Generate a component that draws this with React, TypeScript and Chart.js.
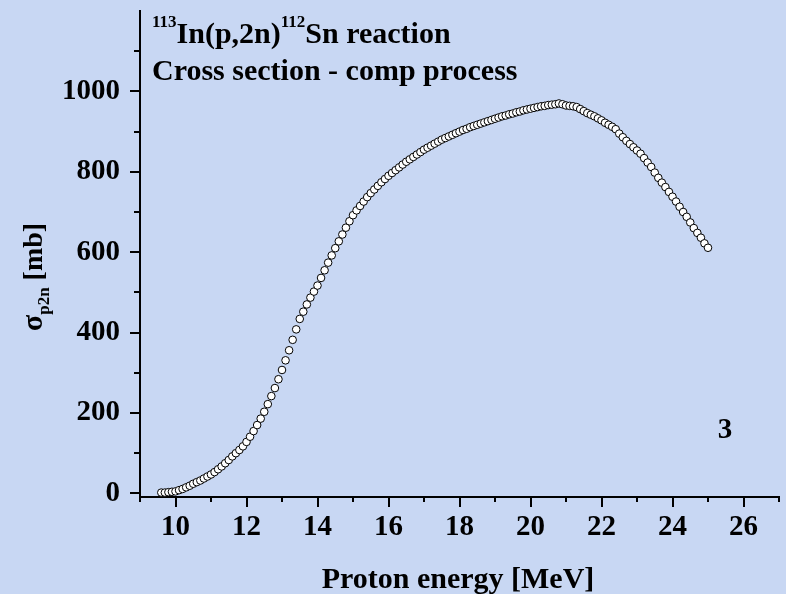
import React, { useEffect, useRef } from "react";
import { Chart, registerables } from "chart.js";

Chart.register(...registerables);

const energies: number[] = [
  9.6, 9.7, 9.8, 9.9, 10.0, 10.1, 10.2, 10.3, 10.4, 10.5, 10.6, 10.7, 10.8, 10.9,
  11.0, 11.1, 11.2, 11.3, 11.4, 11.5, 11.6, 11.7, 11.8, 11.9,
  12.0, 12.1, 12.2, 12.3, 12.4, 12.5, 12.6, 12.7, 12.8, 12.9,
  13.0, 13.1, 13.2, 13.3, 13.4, 13.5, 13.6, 13.7, 13.8, 13.9,
  14.0, 14.1, 14.2, 14.3, 14.4, 14.5, 14.6, 14.7, 14.8, 14.9,
  15.0, 15.1, 15.2, 15.3, 15.4, 15.5, 15.6, 15.7, 15.8, 15.9,
  16.0, 16.1, 16.2, 16.3, 16.4, 16.5, 16.6, 16.7, 16.8, 16.9,
  17.0, 17.1, 17.2, 17.3, 17.4, 17.5, 17.6, 17.7, 17.8, 17.9,
  18.0, 18.1, 18.2, 18.3, 18.4, 18.5, 18.6, 18.7, 18.8, 18.9,
  19.0, 19.1, 19.2, 19.3, 19.4, 19.5, 19.6, 19.7, 19.8, 19.9,
  20.0, 20.1, 20.2, 20.3, 20.4, 20.5, 20.6, 20.7, 20.8, 20.9,
  21.0, 21.1, 21.2, 21.3, 21.4, 21.5, 21.6, 21.7, 21.8, 21.9,
  22.0, 22.1, 22.2, 22.3, 22.4, 22.5, 22.6, 22.7, 22.8, 22.9,
  23.0, 23.1, 23.2, 23.3, 23.4, 23.5, 23.6, 23.7, 23.8, 23.9,
  24.0, 24.1, 24.2, 24.3, 24.4, 24.5, 24.6, 24.7, 24.8, 24.9,
  25.0,
];

const sigmaP2n: number[] = [
  2, 2, 3, 4, 5, 8, 11, 15, 19, 24, 28, 32, 37, 42,
  47, 53, 60, 67, 75, 83, 92, 100, 108, 117,
  128, 141, 155, 170, 186, 203, 222, 242, 262, 284,
  307, 331, 356, 382, 408, 434, 452, 470, 487, 502,
  517, 536, 555, 574, 592, 610, 627, 644, 661, 677,
  692, 704, 715, 726, 737, 747, 756, 765, 774, 782,
  790, 797, 804, 811, 818, 825, 831, 837, 843, 849,
  855, 860, 865, 870, 875, 880, 884, 888, 892, 896,
  900, 904, 907, 911, 914, 917, 920, 923, 926, 929,
  932, 935, 938, 940, 943, 945, 948, 950, 953, 955,
  957, 959, 961, 963, 964, 966, 967, 968, 970, 968,
  965, 964, 963, 961, 956, 951, 946, 942, 938, 933,
  928, 922, 917, 912, 906, 895, 886, 877, 869, 861,
  853, 845, 834, 823, 812, 798, 785, 773, 762, 750,
  738, 726, 713, 700, 688, 674, 660, 648, 636, 622,
  611,
];

const xMajorTicks: number[] = [10, 12, 14, 16, 18, 20, 22, 24, 26];
const xMinorTicks: number[] = [9, 11, 13, 15, 17, 19, 21, 23, 25, 27];
const yMajorTicks: number[] = [0, 200, 400, 600, 800, 1000];
const yMinorTicks: number[] = [100, 300, 500, 700, 900, 1100];

const FONT = "'Liberation Serif', 'Times New Roman', serif";

const decorPlugin = {
  id: "decor",
  beforeDraw(chart: any) {
    const ctx = chart.ctx;
    ctx.save();
    ctx.fillStyle = "#c8d7f3";
    ctx.fillRect(0, 0, chart.width, chart.height);
    ctx.restore();
  },
  afterDraw(chart: any) {
    const ctx = chart.ctx;
    const xs = chart.scales.x;
    const ys = chart.scales.y;
    const { left, bottom } = chart.chartArea;
    ctx.save();
    ctx.strokeStyle = "#000";
    ctx.lineWidth = 2;
    ctx.beginPath();
    xMajorTicks.forEach((v) => {
      const px = Math.round(xs.getPixelForValue(v));
      ctx.moveTo(px, bottom);
      ctx.lineTo(px, bottom + 10);
    });
    xMinorTicks.forEach((v) => {
      const px = Math.round(xs.getPixelForValue(v));
      ctx.moveTo(px, bottom);
      ctx.lineTo(px, bottom + 5);
    });
    yMajorTicks.forEach((v) => {
      const py = Math.round(ys.getPixelForValue(v));
      ctx.moveTo(left, py);
      ctx.lineTo(left - 10, py);
    });
    yMinorTicks.forEach((v) => {
      const py = Math.round(ys.getPixelForValue(v));
      ctx.moveTo(left, py);
      ctx.lineTo(left - 6, py);
    });
    ctx.stroke();

    ctx.fillStyle = "#000";
    ctx.textBaseline = "alphabetic";
    ctx.textAlign = "left";
    let x = 152;
    const big = `bold 30px ${FONT}`;
    const sup = `bold 17px ${FONT}`;
    const parts: [string, string, number][] = [
      ["113", sup, 27],
      ["In(p,2n)", big, 43],
      ["112", sup, 27],
      ["Sn reaction", big, 43],
    ];
    parts.forEach(([t, f, y]) => {
      ctx.font = f;
      ctx.fillText(t, x, y);
      x += ctx.measureText(t).width;
    });
    ctx.font = big;
    ctx.fillText("Cross section - comp process", 152, 80);

    ctx.textAlign = "center";
    ctx.fillText("Proton energy [MeV]", 458, 588);

    ctx.font = `bold 29px ${FONT}`;
    ctx.textBaseline = "middle";
    ctx.fillText("3", 725, 431);

    ctx.textBaseline = "alphabetic";
    ctx.textAlign = "left";
    ctx.translate(42, 277);
    ctx.rotate(-Math.PI / 2);
    const segs: [string, string, number][] = [
      ["\u03c3", `bold 30px ${FONT}`, 0],
      ["p2n", `bold 17px ${FONT}`, 7],
      [" [mb]", `bold 28px ${FONT}`, 0],
    ];
    let total = 0;
    segs.forEach(([t, f]) => {
      ctx.font = f;
      total += ctx.measureText(t).width;
    });
    let cx = -total / 2;
    segs.forEach(([t, f, dy]) => {
      ctx.font = f;
      ctx.fillText(t, cx, dy);
      cx += ctx.measureText(t).width;
    });
    ctx.restore();
  },
};

export default function App() {
  const ref = useRef<HTMLCanvasElement | null>(null);
  useEffect(() => {
    if (!ref.current) return;
    const chart = new Chart(ref.current, {
      type: "scatter",
      data: {
        datasets: [
          {
            data: energies.map((e, i) => ({ x: e, y: sigmaP2n[i] })),
            pointRadius: 3.8,
            pointBackgroundColor: "#ffffff",
            pointBorderColor: "#000000",
            pointBorderWidth: 1,
            showLine: false,
          },
        ],
      },
      options: {
        animation: false,
        responsive: false,
        layout: { padding: { top: 11, right: 7, left: 0, bottom: 0 } },
        plugins: {
          legend: { display: false },
          tooltip: { enabled: false },
        },
        scales: {
          x: {
            type: "linear",
            min: 9,
            max: 27,
            grid: { display: false, drawTicks: false },
            border: { display: true, color: "#000", width: 2 },
            ticks: {
              color: "#000",
              padding: 13,
              font: { family: FONT, size: 29, weight: "bold" },
              callback: (v: any) => String(v),
            },
            afterBuildTicks: (s: any) => {
              s.ticks = xMajorTicks.map((v) => ({ value: v }));
            },
            afterFit: (s: any) => {
              s.height = 97;
              s.paddingLeft = 0;
              s.paddingRight = 0;
              s.paddingTop = 0;
              s.paddingBottom = 0;
            },
          },
          y: {
            type: "linear",
            min: -9,
            max: 1200,
            grid: { display: false, drawTicks: false },
            border: { display: true, color: "#000", width: 2 },
            ticks: {
              color: "#000",
              padding: 20,
              font: { family: FONT, size: 29, weight: "bold" },
              callback: (v: any) => String(v),
            },
            afterBuildTicks: (s: any) => {
              s.ticks = yMajorTicks.map((v) => ({ value: v }));
            },
            afterFit: (s: any) => {
              s.width = 140;
              s.paddingLeft = 0;
              s.paddingRight = 0;
              s.paddingTop = 0;
              s.paddingBottom = 0;
            },
          },
        },
      },
      plugins: [decorPlugin],
    });
    return () => chart.destroy();
  }, []);
  return (
    <div style={{ position: "fixed", left: 0, top: 0, width: 786, height: 594 }}>
      <canvas ref={ref} width={786} height={594} />
    </div>
  );
}
